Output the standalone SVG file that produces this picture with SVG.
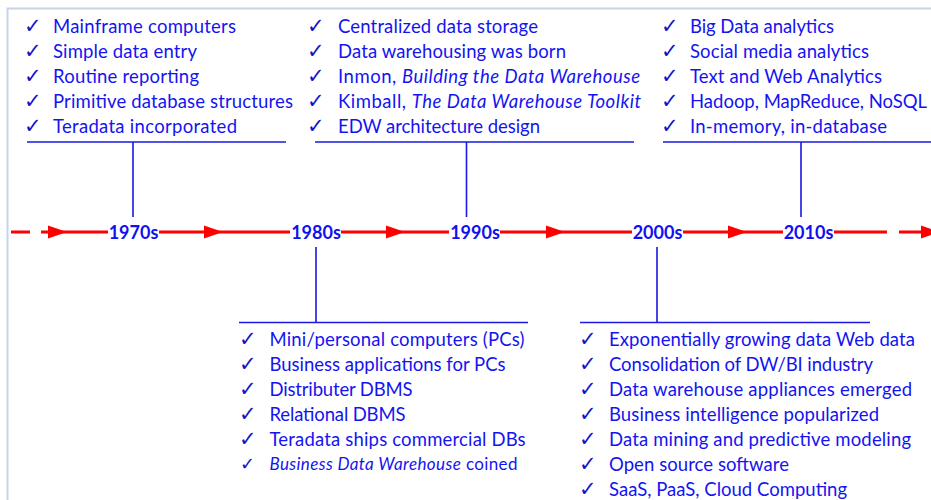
<svg xmlns="http://www.w3.org/2000/svg" width="931" height="500" viewBox="0 0 931 500">
  <style>
    .item { font-family: Lato, "Open Sans", sans-serif; font-size: 18.5px; fill: #1414f0; }
    .chk { font-family: "DejaVu Sans", sans-serif; font-size: 21px; font-weight: bold; fill: #1414c8; }
    .year { font-family: Lato, "Open Sans", sans-serif; font-size: 18px; font-weight: bold; fill: #1010f0; text-anchor: middle; }
    .bracket { stroke: #1a1ae0; stroke-width: 1.6; fill: none; }
    .axis { stroke: #ff0000; stroke-width: 3; fill: none; }
    .frame { stroke: #c7d4e6; stroke-width: 2; fill: none; }
    .it { font-style: italic; }
  </style>
  <defs>
    <path id="head" d="M0,-6.5 L19,0 L0,6.5 Z" fill="#ff0000"/>
  </defs>

  <rect width="931" height="500" fill="#ffffff"/>
  <path class="frame" d="M7.5,500 V8.5 H931"/>

  <!-- timeline axis with arrowheads -->
  <g id="connectors">
    <path class="axis" d="M11,232 H30 M41,232 H108 M159,232 H290 M341,232 H449 M500,232 H632 M683,232 H783 M834,232 H887 M899,232 H931"/>
    <use href="#head" x="48" y="232"/>
    <use href="#head" x="204" y="232"/>
    <use href="#head" x="386" y="232"/>
    <use href="#head" x="546" y="232"/>
    <use href="#head" x="728" y="232"/>
    <use href="#head" x="921" y="232"/>
    <!-- brackets tying each decade to its list -->
    <path class="bracket" d="M27,142 H286 M133,142 V217"/>
    <path class="bracket" d="M315,142 H634 M466.5,142 V217"/>
    <path class="bracket" d="M663,142 H931 M801,142 V217"/>
    <path class="bracket" d="M239,322.5 H528 M316,247 V322.5"/>
    <path class="bracket" d="M580,322.5 H870 M657,247 V322.5"/>
  </g>

  <g id="y1970">
    <text class="year" x="133.5" y="238.5">1970s</text>
  </g>
  <g id="y1980">
    <text class="year" x="316" y="238.5">1980s</text>
  </g>
  <g id="y1990">
    <text class="year" x="475" y="238.5">1990s</text>
  </g>
  <g id="y2000">
    <text class="year" x="657.5" y="238.5">2000s</text>
  </g>
  <g id="y2010">
    <text class="year" x="808.5" y="238.5">2010s</text>
  </g>

  <g id="list1970">
    <text class="chk" x="24" y="33">✓</text><text class="item" x="53" y="33" textLength="183">Mainframe computers</text>
    <text class="chk" x="24" y="58">✓</text><text class="item" x="53" y="58" textLength="144">Simple data entry</text>
    <text class="chk" x="24" y="83">✓</text><text class="item" x="53" y="83" textLength="146">Routine reporting</text>
    <text class="chk" x="24" y="108">✓</text><text class="item" x="53" y="108" textLength="240">Primitive database structures</text>
    <text class="chk" x="24" y="133">✓</text><text class="item" x="53" y="133" textLength="184">Teradata incorporated</text>
  </g>

  <g id="list1990">
    <text class="chk" x="307" y="33">✓</text><text class="item" x="338" y="33" textLength="200">Centralized data storage</text>
    <text class="chk" x="307" y="58">✓</text><text class="item" x="338" y="58" textLength="228">Data warehousing was born</text>
    <text class="chk" x="307" y="83">✓</text><text class="item" x="338" y="83" textLength="302">Inmon, <tspan class="it">Building the Data Warehouse</tspan></text>
    <text class="chk" x="307" y="108">✓</text><text class="item" x="338" y="108" textLength="303">Kimball, <tspan class="it">The Data Warehouse Toolkit</tspan></text>
    <text class="chk" x="307" y="133">✓</text><text class="item" x="338" y="133" textLength="202">EDW architecture design</text>
  </g>

  <g id="list2010">
    <text class="chk" x="661" y="33">✓</text><text class="item" x="690" y="33" textLength="144">Big Data analytics</text>
    <text class="chk" x="661" y="58">✓</text><text class="item" x="690" y="58" textLength="179">Social media analytics</text>
    <text class="chk" x="661" y="83">✓</text><text class="item" x="690" y="83" textLength="192">Text and Web Analytics</text>
    <text class="chk" x="661" y="108">✓</text><text class="item" x="690" y="108" textLength="237">Hadoop, MapReduce, NoSQL</text>
    <text class="chk" x="661" y="133">✓</text><text class="item" x="690" y="133" textLength="197">In-memory, in-database</text>
  </g>

  <g id="list1980">
    <text class="chk" x="239" y="346">✓</text><text class="item" x="269.5" y="346" textLength="255">Mini/personal computers (PCs)</text>
    <text class="chk" x="239" y="371">✓</text><text class="item" x="269.5" y="371" textLength="236">Business applications for PCs</text>
    <text class="chk" x="239" y="396">✓</text><text class="item" x="269.5" y="396" textLength="143">Distributer DBMS</text>
    <text class="chk" x="239" y="421">✓</text><text class="item" x="269.5" y="421" textLength="136">Relational DBMS</text>
    <text class="chk" x="239" y="446">✓</text><text class="item" x="269.5" y="446" textLength="256">Teradata ships commercial DBs</text>
    <text class="chk" x="240" y="470" style="font-size:18px">✓</text><text class="item" x="269.5" y="470" style="font-size:17px" textLength="248"><tspan class="it">Business Data Warehouse</tspan> coined</text>
  </g>

  <g id="list2000">
    <text class="chk" x="579" y="346">✓</text><text class="item" x="609" y="346" textLength="306">Exponentially growing data Web data</text>
    <text class="chk" x="579" y="371">✓</text><text class="item" x="609" y="371" textLength="264">Consolidation of DW/BI industry</text>
    <text class="chk" x="579" y="396">✓</text><text class="item" x="609" y="396" textLength="303">Data warehouse appliances emerged</text>
    <text class="chk" x="579" y="421">✓</text><text class="item" x="609" y="421" textLength="270">Business intelligence popularized</text>
    <text class="chk" x="579" y="446">✓</text><text class="item" x="609" y="446" textLength="302">Data mining and predictive modeling</text>
    <text class="chk" x="579" y="471">✓</text><text class="item" x="609" y="471" textLength="180">Open source software</text>
    <text class="chk" x="579" y="496">✓</text><text class="item" x="609" y="496" textLength="238">SaaS, PaaS, Cloud Computing</text>
  </g>
</svg>
